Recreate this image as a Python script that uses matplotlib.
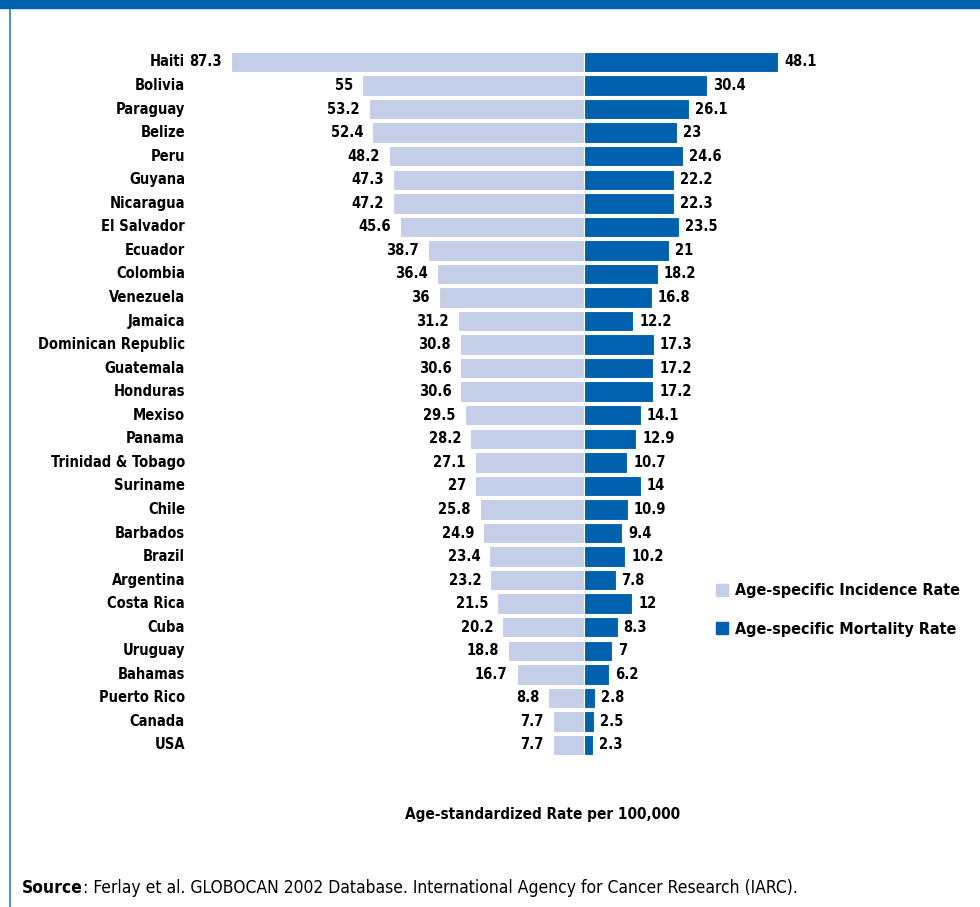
import matplotlib.pyplot as plt
from matplotlib.patches import Patch, Rectangle
from matplotlib.lines import Line2D

countries = ["Haiti", "Bolivia", "Paraguay", "Belize", "Peru", "Guyana", "Nicaragua",
             "El Salvador", "Ecuador", "Colombia", "Venezuela", "Jamaica",
             "Dominican Republic", "Guatemala", "Honduras", "Mexiso", "Panama",
             "Trinidad & Tobago", "Suriname", "Chile", "Barbados", "Brazil",
             "Argentina", "Costa Rica", "Cuba", "Uruguay", "Bahamas", "Puerto Rico",
             "Canada", "USA"]
incidence = [87.3, 55, 53.2, 52.4, 48.2, 47.3, 47.2, 45.6, 38.7, 36.4, 36, 31.2,
             30.8, 30.6, 30.6, 29.5, 28.2, 27.1, 27, 25.8, 24.9, 23.4, 23.2, 21.5,
             20.2, 18.8, 16.7, 8.8, 7.7, 7.7]
mortality = [48.1, 30.4, 26.1, 23, 24.6, 22.2, 22.3, 23.5, 21, 18.2, 16.8, 12.2,
             17.3, 17.2, 17.2, 14.1, 12.9, 10.7, 14, 10.9, 9.4, 10.2, 7.8, 12,
             8.3, 7, 6.2, 2.8, 2.5, 2.3]

LIGHT = "#c5cee8"
DARK = "#0061ae"
plt.rcParams["font.family"] = ["DejaVu Sans"]
plt.rcParams["font.stretch"] = "condensed"
plt.rcParams["font.weight"] = "bold"

W, H = 980, 907
fig = plt.figure(figsize=(W / 100, H / 100), dpi=100)
ax = fig.add_axes([0, 0, 1, 1])

# pixel layout: zero line at x=584, ~4.04 px per unit; rows from y=62 every 23.55 px
cx, sx = 584, 4.04
y0, dy = 62, 23.55
ax.set_xlim(-cx / sx, (W - cx) / sx)
ax.set_ylim((H - y0) / dy, -y0 / dy)
ax.axis("off")

ypos = list(range(len(countries)))
ax.barh(ypos, [-v for v in incidence], height=0.87, color=LIGHT, edgecolor="white", linewidth=0.8)
ax.barh(ypos, mortality, height=0.87, color=DARK, edgecolor="white", linewidth=0.8)

for i, name in enumerate(countries):
    ax.text((185 - cx) / sx, i, name, ha="right", va="center", fontsize=10.5)
    ax.annotate(f"{incidence[i]:g}", (-incidence[i], i), xytext=(-9, 0),
                textcoords="offset pixels", ha="right", va="center", fontsize=10.5)
    ax.annotate(f"{mortality[i]:g}", (mortality[i], i), xytext=(6, 0),
                textcoords="offset pixels", ha="left", va="center", fontsize=10.5)

handles = [Patch(color=LIGHT, label="Age-specific Incidence Rate"),
           Patch(color=DARK, label="Age-specific Mortality Rate")]
fig.legend(handles=handles, loc="upper left", bbox_to_anchor=(702 / W, 1 - 569 / H),
           frameon=False, prop={"weight": "bold", "size": 11.5, "stretch": "condensed"},
           handlelength=0.75, handleheight=0.75, handletextpad=0.4, labelspacing=1.45)

fig.text(543 / W, 1 - 815 / H, "Age-standardized Rate per 100,000", ha="center", va="center",
         fontsize=11)
src = fig.text(22 / W, 1 - 888 / H, "Source", ha="left", va="center", fontsize=12.5)
ax.annotate(": Ferlay et al. GLOBOCAN 2002 Database. International Agency for Cancer Research (IARC).",
            xy=(1, 0.5), xycoords=src, ha="left", va="center", fontsize=12.5, fontweight="normal")

# header strip and frame line
fig.patches.append(Rectangle((0, 1 - 8 / H), 1, 8 / H, transform=fig.transFigure,
                             color=DARK, zorder=5))
fig.lines.append(Line2D([10 / W, 10 / W], [0, 1 - 8 / H], transform=fig.transFigure,
                        color="#2a7bc4", linewidth=1.2))

fig.savefig("out.png", dpi=100)
